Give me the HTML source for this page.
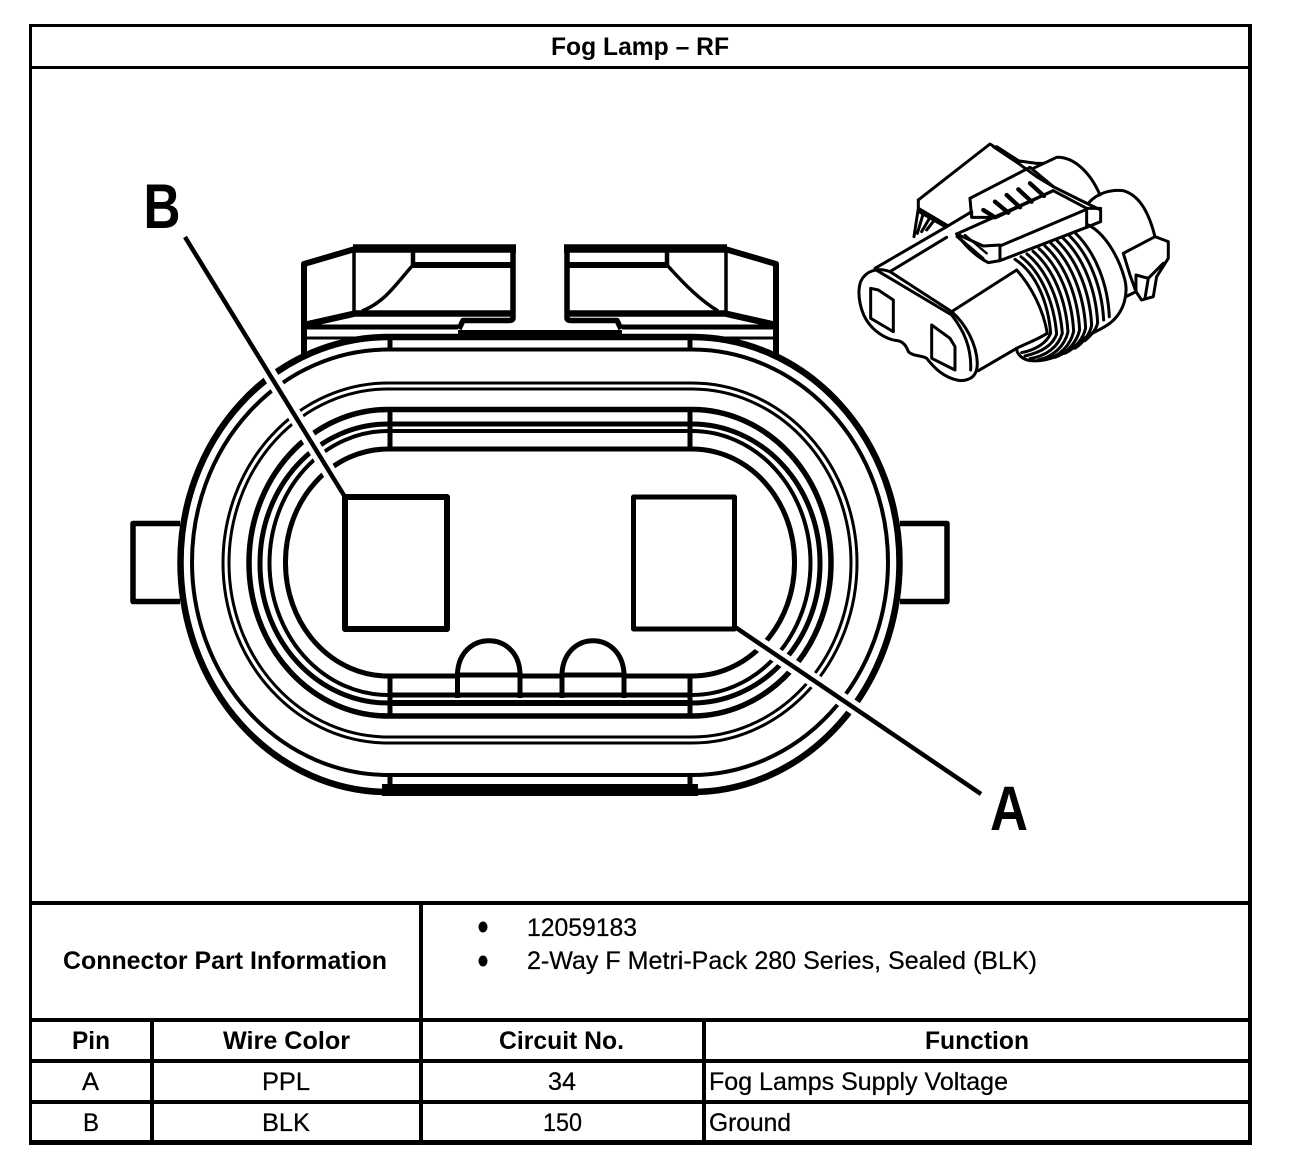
<!DOCTYPE html>
<html lang="en">
<head>
<meta charset="utf-8">
<title>Fog Lamp – RF</title>
<style>
html,body{margin:0;padding:0;background:#fff}
svg{display:block}
text{font-family:"Liberation Sans",Arial,sans-serif;fill:#000}
.t{font-size:25px;stroke:#000;stroke-width:.25px}
.b{font-size:25px;font-weight:bold}
</style>
</head>
<body>
<svg width="1312" height="1174" viewBox="0 0 1312 1174" xmlns="http://www.w3.org/2000/svg">
<rect width="1312" height="1174" fill="#fff"/>

<!-- Frame and table -->
<g fill="#000">
<rect x="29" y="24" width="1223" height="3"/>
<rect x="29" y="66" width="1223" height="3"/>
<rect x="29" y="24" width="3" height="1121"/>
<rect x="1248" y="24" width="4" height="1121"/>
<rect x="29" y="901" width="1223" height="4"/>
<rect x="29" y="1018" width="1223" height="4"/>
<rect x="29" y="1059" width="1223" height="4"/>
<rect x="29" y="1100" width="1223" height="4"/>
<rect x="29" y="1140" width="1223" height="5"/>
<rect x="150" y="1018" width="4" height="127"/>
<rect x="419" y="901" width="4" height="244"/>
<rect x="702" y="1018" width="4" height="127"/>
<ellipse cx="483" cy="927" rx="4.5" ry="5.5"/>
<ellipse cx="483" cy="961" rx="4.5" ry="5.5"/>
</g>

<text class="b" x="551" y="55" textLength="178" lengthAdjust="spacingAndGlyphs">Fog Lamp – RF</text>
<text class="b" x="63" y="969" textLength="324" lengthAdjust="spacingAndGlyphs">Connector Part Information</text>
<text class="t" x="527" y="936" textLength="110" lengthAdjust="spacingAndGlyphs">12059183</text>
<text class="t" x="527" y="969" textLength="510" lengthAdjust="spacingAndGlyphs">2-Way F Metri-Pack 280 Series, Sealed (BLK)</text>
<text class="b" x="72" y="1049" textLength="38" lengthAdjust="spacingAndGlyphs">Pin</text>
<text class="b" x="223" y="1049" textLength="127" lengthAdjust="spacingAndGlyphs">Wire Color</text>
<text class="b" x="499" y="1049" textLength="125" lengthAdjust="spacingAndGlyphs">Circuit No.</text>
<text class="b" x="925" y="1049" textLength="104" lengthAdjust="spacingAndGlyphs">Function</text>
<text class="t" x="82" y="1090" textLength="17" lengthAdjust="spacingAndGlyphs">A</text>
<text class="t" x="262" y="1090" textLength="48" lengthAdjust="spacingAndGlyphs">PPL</text>
<text class="t" x="548" y="1090" textLength="28" lengthAdjust="spacingAndGlyphs">34</text>
<text class="t" x="709" y="1090" textLength="299" lengthAdjust="spacingAndGlyphs">Fog Lamps Supply Voltage</text>
<text class="t" x="83" y="1131" textLength="16" lengthAdjust="spacingAndGlyphs">B</text>
<text class="t" x="262" y="1131" textLength="48" lengthAdjust="spacingAndGlyphs">BLK</text>
<text class="t" x="543" y="1131" textLength="39" lengthAdjust="spacingAndGlyphs">150</text>
<text class="t" x="709" y="1131" textLength="82" lengthAdjust="spacingAndGlyphs">Ground</text>

<!-- Main connector -->
<g fill="none" stroke="#000" stroke-linejoin="round">
  <!-- Top tabs -->
  <g>
    <path stroke-width="6" d="M304 358V264L355 249"/>
    <path stroke-width="8.5" d="M353 248.500H516"/>
    <path stroke-width="5.500" d="M513 248V318Q513 320.500 509 320.500H463L459 329"/>
    <path stroke-width="3.500" d="M354 250V312"/>
    <path stroke-width="4.500" d="M413 250V265"/>
    <path stroke-width="6" d="M413 265H512"/>
    <path stroke-width="3.500" d="M413 265C395 285 385 302 362 311"/>
    <path stroke-width="6.500" d="M304 325L355 313.500H512"/>
    <path stroke-width="5" d="M304 327H458"/>
    <path stroke-width="3" d="M304 338H388"/>
  </g>
  <g>
    <path stroke-width="6" d="M776 358V264L725 249"/>
    <path stroke-width="8.5" d="M727 248.500H564"/>
    <path stroke-width="5.500" d="M567 248V318Q567 320.500 571 320.500H617L621 329"/>
    <path stroke-width="3.500" d="M726 250V312"/>
    <path stroke-width="4.500" d="M667 250V265"/>
    <path stroke-width="6" d="M667 265H568"/>
    <path stroke-width="3.500" d="M667 265C685 285 700 300 718 311"/>
    <path stroke-width="6.500" d="M776 325L725 313.500H568"/>
    <path stroke-width="5" d="M776 327H622"/>
    <path stroke-width="3" d="M776 338H692"/>
  </g>
  <path stroke-width="8" d="M458 334H622"/>

  <!-- Side tabs -->
  <path stroke-width="5.500" d="M180 523.500H133V601.500H180"/>
  <path stroke-width="5.500" d="M900 523.500H947V601.500H900"/>

  <!-- Rings -->
  <path stroke-width="6.500" d="M388 337A207.500 225 0 0 0 180.500 562A207.500 230 0 0 0 388 792H692A207.500 230 0 0 0 899.500 562A207.500 225 0 0 0 692 337Z"/>
  <path stroke-width="4" d="M388 349.500A196 212.500 0 0 0 192 562A196 213 0 0 0 388 775H692A196 213 0 0 0 888 562A196 212.500 0 0 0 692 349.500Z"/>
  <path stroke-width="3" d="M388 383A165 180 0 0 0 223 563A165 180 0 0 0 388 743H692A165 180 0 0 0 857 563A165 180 0 0 0 692 383Z"/>
  <path stroke-width="3" d="M388 389A159 174 0 0 0 229 563A159 174 0 0 0 388 737H692A159 174 0 0 0 851 563A159 174 0 0 0 692 389Z"/>
  <path stroke-width="5.500" d="M388 409.500A139 153 0 0 0 249 562.500A139 153 0 0 0 388 716H692A139 153 0 0 0 831 562.500A139 153 0 0 0 692 409.500Z"/>
  <path stroke-width="5" d="M388 424A128 139 0 0 0 260 563A128 139 0 0 0 388 703H692A128 139 0 0 0 820 563A128 139 0 0 0 692 424Z"/>
  <path stroke-width="4" d="M388 431A118.500 132 0 0 0 269.500 563A118.500 132 0 0 0 388 695H692A118.500 132 0 0 0 810.500 563A118.500 132 0 0 0 692 431Z"/>
  <path stroke-width="5" d="M388 449A102.500 113 0 0 0 285.500 562.500A102.500 113 0 0 0 388 676H692A102.500 113 0 0 0 794.500 562.500A102.500 113 0 0 0 692 449Z"/>

  <!-- Verticals -->
  <path stroke-width="5" d="M390 338V350M690 338V350M390 409V449M690 409V449M390 676V716M690 676V716M390 775V790M690 775V790"/>
  <path stroke-width="3" d="M388 383H692M388 389H692"/>
  <path stroke-width="12" d="M382 790H698"/>

  <!-- Leader halos -->
  <path stroke="#fff" stroke-width="14" d="M250 342L336 483"/>
  <path stroke="#fff" stroke-width="14" d="M745 634L868 717"/>

  <!-- Pins -->
  <rect x="345" y="497" width="102" height="132" stroke-width="6" fill="#fff"/>
  <rect x="633.500" y="497" width="101" height="132" stroke-width="5" fill="#fff"/>

  <!-- Domes -->
  <path stroke-width="5" fill="#fff" d="M457.500 698V673C460 630 518 630 520 673V698"/>
  <path stroke-width="5" fill="#fff" d="M562 698V673C565 630 621 630 624 673V698"/>
  <path stroke-width="5" d="M457 675H520M562 675H624"/>
  <path stroke-width="5" d="M388 695H692"/>
  <path stroke-width="6" d="M388 703H692"/>

  <!-- Leaders -->
  <path stroke-width="4.500" stroke-linecap="butt" d="M185 237L345 497"/>
  <path stroke-width="4.500" stroke-linecap="butt" d="M735 627L981 794"/>
</g>

<text x="143.500" y="228" font-size="63" font-weight="bold" textLength="37" lengthAdjust="spacingAndGlyphs">B</text>
<text x="990" y="830" font-size="63" font-weight="bold" textLength="38" lengthAdjust="spacingAndGlyphs">A</text>

<!-- Isometric connector -->
<g transform="translate(840 130) scale(.3333)" fill="none" stroke="#000" stroke-width="9" stroke-linejoin="round" stroke-linecap="round">
  <!-- Ribs -->
  <path d="M525 388C590 430 625 520 632 610C620 640 585 660 545 668"/>
  <path d="M543 380C606 428 642 520 650 612C638 648 598 668 555 678"/>
  <path d="M561 372C624 424 660 516 667 610C655 650 620 678 570 686"/>
  <path d="M579 364C642 418 678 512 684 606C674 648 640 680 595 690"/>
  <path d="M597 356C660 412 696 508 701 604C692 645 660 678 620 688"/>
  <path d="M615 348C678 405 714 504 719 600C710 638 680 670 645 682"/>
  <path d="M633 340C696 398 732 498 737 594C730 628 705 655 675 670"/>
  <path d="M651 332C714 392 750 490 755 586C750 612 730 638 705 655"/>
  <path d="M669 324C732 384 768 482 773 578C770 595 755 615 735 632"/>
  <path d="M687 316C750 376 786 474 791 570"/>
  <path d="M705 308C768 368 804 466 808 560"/>
  <!-- Rear collar -->
  <path d="M745 285C795 310 835 380 852 440C868 490 852 545 812 578C780 603 745 610 715 640C680 672 620 697 570 692C545 687 530 672 530 655"/>
  <!-- Rear cap -->
  <path d="M745 220C770 190 810 178 850 182C895 195 925 240 945 320L985 335V385L950 440L940 500L905 510L888 485L858 500"/>
  <path d="M850 370L945 320M850 370L870 435L888 485V435L925 445L970 400M925 445L915 505"/>
  <!-- Rear hump -->
  <path d="M580 115L650 82C700 80 750 125 780 195"/>
  <!-- Body -->
  <path d="M105 415L320 290M150 425L320 322"/>
  <path d="M335 545L530 420C575 470 610 540 622 610C590 630 560 640 530 655L415 722"/>
  <!-- Front face -->
  <path d="M150 425C110 410 75 425 62 455C50 490 60 550 90 585C110 610 145 630 172 632C190 635 200 650 205 665C220 680 245 675 260 685C280 710 310 745 360 752C395 752 412 735 412 700C410 640 375 580 335 545L150 425Z"/>
  <path d="M105 418L330 552M335 555C370 600 395 650 392 720"/>
  <path d="M92 475L115 480L160 510V605L92 565Z"/>
  <path d="M275 585L330 625L345 650V720L275 685Z"/>
  <!-- Top latch -->
  <path d="M235 210L450 42L530 92L590 100L610 100"/>
  <path d="M235 210V235L320 285M235 235L222 320M250 250L232 310M270 262L245 305M285 268L260 300"/>
  <path d="M390 205L570 112L640 170L720 210L782 240V275L740 292L480 392"/>
  <path d="M350 312L640 182L740 235H782M480 348L735 240M740 235V292"/>
  <path d="M350 312C370 340 400 375 445 398L480 392V345L430 348L350 312"/>
  <path d="M395 245V262L390 205M395 262L470 262L640 182M320 290L395 245"/>
  <path d="M535 100L590 140L640 170M460 50L535 100M470 50L540 95"/>
  <path d="M430 240L465 262M465 215L505 248M500 195L540 232M535 178L575 215M570 160L612 198" stroke-width="13"/>
  <path d="M360 325L430 385M375 315L440 370M350 320L420 380" stroke-width="7"/>
  <path d="M240 245L310 285" stroke-width="12"/>
</g>
</svg>
</body>
</html>
